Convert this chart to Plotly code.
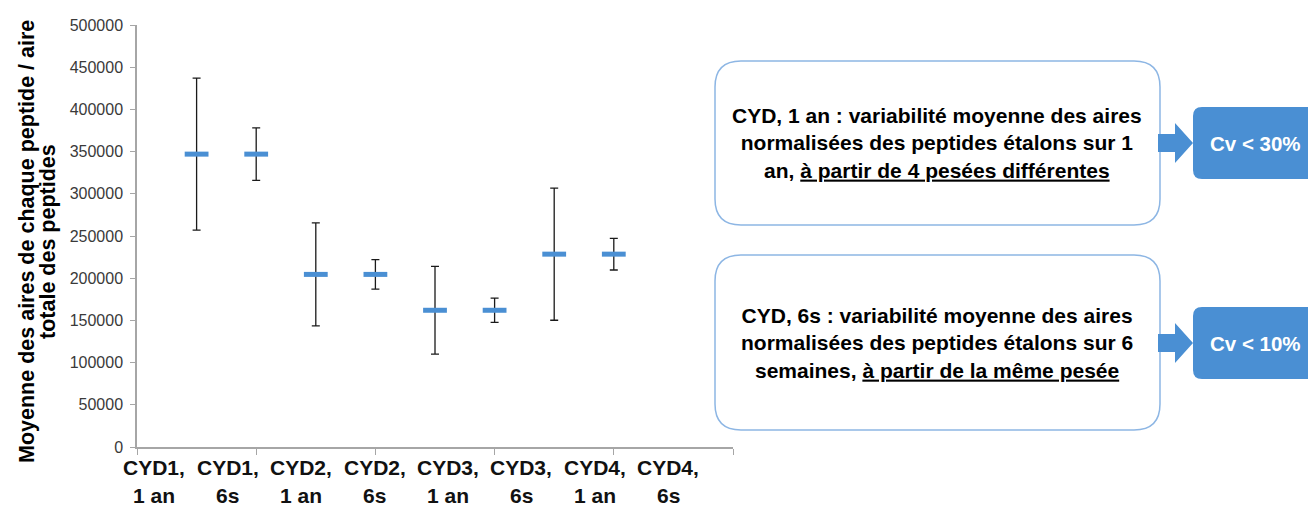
import plotly.graph_objects as go

# Sample groups (label shown under the axis) and their normalised mean areas
categories = ["CYD1, 1 an", "CYD1, 6s", "CYD2, 1 an", "CYD2, 6s",
              "CYD3, 1 an", "CYD3, 6s", "CYD4, 1 an", "CYD4, 6s"]
means = [347000, 347000, 204500, 204500, 162000, 162000, 228500, 228500]
errors = [90000, 31000, 61000, 17500, 52000, 14300, 78300, 18800]

y_ticks = list(range(0, 500001, 50000))

box_texts = [
    "CYD, 1 an : variabilité moyenne des aires<br>"
    "normalisées des peptides étalons sur 1<br>"
    "an, <u>à partir de 4 pesées différentes</u>",
    "CYD, 6s : variabilité moyenne des aires<br>"
    "normalisées des peptides étalons sur 6<br>"
    "semaines, <u>à partir de la même pesée</u>",
]
cv_texts = ["Cv &lt; 30%", "Cv &lt; 10%"]

FONT = "Liberation Sans, Arial, sans-serif"
BLUE = "#4A8FD3"
W, H = 1308, 509
L, R, T, B = 137, 733, 25, 447


def px(x):
    return (x - L) / (R - L)


def py(y):
    return (B - y) / (B - T)


def pt(x, y):
    return f"{px(x):.5f},{py(y):.5f}"


def rounded_rect(x0, y0, x1, y1, r):
    return (f"M{pt(x0 + r, y0)} L{pt(x1 - r, y0)} Q{pt(x1, y0)} {pt(x1, y0 + r)} "
            f"L{pt(x1, y1 - r)} Q{pt(x1, y1)} {pt(x1 - r, y1)} "
            f"L{pt(x0 + r, y1)} Q{pt(x0, y1)} {pt(x0, y1 - r)} "
            f"L{pt(x0, y0 + r)} Q{pt(x0, y0)} {pt(x0 + r, y0)} Z")


def arrow(cy):
    pts = [(1158, cy - 9), (1175, cy - 9), (1175, cy - 20), (1193, cy),
           (1175, cy + 20), (1175, cy + 9), (1158, cy + 9)]
    return "M" + " L".join(pt(x, y) for x, y in pts) + " Z"


xs = [i + 1 for i in range(len(categories))]

fig = go.Figure()
fig.add_trace(go.Scatter(
    x=xs, y=means, mode="markers",
    marker=dict(symbol="line-ew", size=17, line=dict(width=5, color=BLUE), color=BLUE),
    error_y=dict(type="data", array=errors, visible=True, color="#1a1a1a",
                 thickness=1.3, width=4),
    showlegend=False, hoverinfo="skip",
))

annotations = []
# category labels under the axis, two lines each
step = 1.232
for i, cat in enumerate(categories):
    first, second = cat.split(", ")
    xc = 0.29 + step * i
    annotations.append(dict(x=xc, xref="x", y=py(467), yref="paper", text=f"<b>{first},</b>",
                            showarrow=False, xanchor="center", yanchor="middle",
                            font=dict(family=FONT, size=21, color="#111111")))
    annotations.append(dict(x=xc, xref="x", y=py(496), yref="paper", text=f"<b>{second}</b>",
                            showarrow=False, xanchor="center", yanchor="middle",
                            font=dict(family=FONT, size=21, color="#111111")))

# y axis title, two rotated lines
for text, xc in [("Moyenne des aires de chaque peptide / aire", 27),
                 ("totale des peptides", 48)]:
    annotations.append(dict(x=px(xc), xref="paper", y=py(242), yref="paper",
                            text=f"<b>{text}</b>", textangle=-90, showarrow=False,
                            xanchor="center", yanchor="middle",
                            font=dict(family=FONT, size=21.5, color="#000000")))

shapes = []
box_centers = [143, 343]
box_bounds = [(61, 225), (255, 430)]
for k in range(2):
    y0, y1 = box_bounds[k]
    cy = box_centers[k]
    shapes.append(dict(type="path", xref="paper", yref="paper",
                       path=rounded_rect(715, y0, 1160, y1, 26),
                       line=dict(color="#8DB6E4", width=1.5), fillcolor="white", layer="above"))
    shapes.append(dict(type="path", xref="paper", yref="paper", path=arrow(cy),
                       line=dict(width=0), fillcolor=BLUE, layer="above"))
    shapes.append(dict(type="path", xref="paper", yref="paper",
                       path=rounded_rect(1193, cy - 36, 1340, cy + 36, 9),
                       line=dict(width=0), fillcolor=BLUE, layer="above"))
    annotations.append(dict(x=px(937), xref="paper", y=py((y0 + y1) / 2), yref="paper",
                            text=f"<b>{box_texts[k]}</b>", showarrow=False,
                            xanchor="center", yanchor="middle", align="center",
                            font=dict(family=FONT, size=21, color="#000000")))
    annotations.append(dict(x=px(1255), xref="paper", y=py(cy), yref="paper",
                            text=f"<b>{cv_texts[k]}</b>", showarrow=False,
                            xanchor="center", yanchor="middle",
                            font=dict(family=FONT, size=20.5, color="white")))

fig.update_layout(
    width=W, height=H,
    margin=dict(l=L, r=W - R, t=T, b=H - B, pad=0),
    paper_bgcolor="white", plot_bgcolor="white",
    showlegend=False,
    xaxis=dict(range=[0, 10], tickvals=[0, 2, 4, 6, 8, 10], showticklabels=False,
               ticks="outside", ticklen=6, tickcolor="#A6A6A6", showline=True,
               linecolor="#A6A6A6", linewidth=1.5, showgrid=False, zeroline=False,
               fixedrange=True),
    yaxis=dict(range=[0, 500000], tickvals=y_ticks, tickformat="d",
               ticks="outside", ticklen=5, tickcolor="#A6A6A6", showline=True,
               linecolor="#A6A6A6", linewidth=1.5, showgrid=False, zeroline=False,
               tickfont=dict(family=FONT, size=16, color="#3A3A3A"),
               ticklabelstandoff=4, fixedrange=True),
    annotations=annotations,
    shapes=shapes,
)

fig.write_html("out.html")
